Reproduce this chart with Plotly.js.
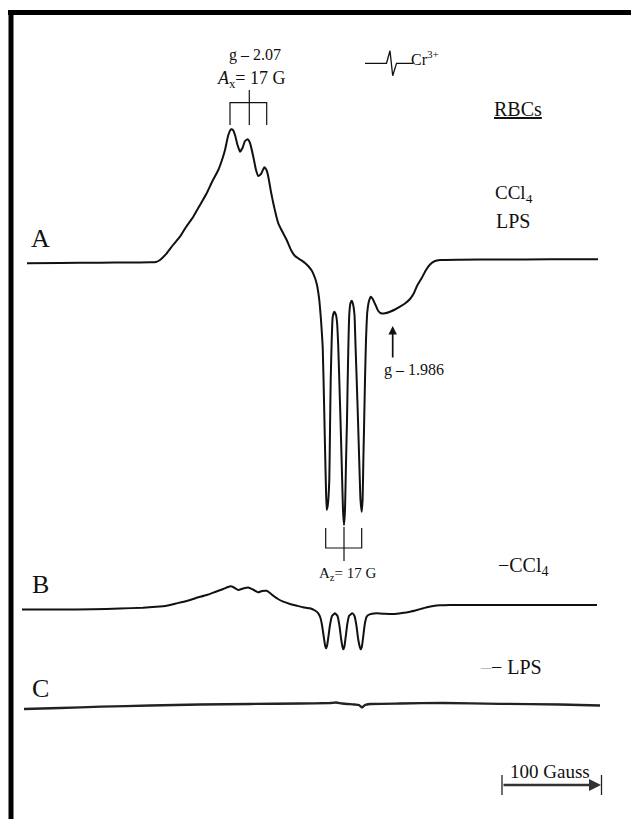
<!DOCTYPE html>
<html>
<head>
<meta charset="utf-8">
<script src="https://cdn.plot.ly/plotly-3.0.1.min.js"></script>
<style>html,body{margin:0;padding:0;background:#fff;}#chart{width:631px;height:819px;}</style>
</head>
<body>
<div id="chart"></div>
<script>
// Magnetic field (G, relative) and first-derivative EPR signal (arbitrary units, baseline = 0)
var fieldA = [27,60,100,130,150,156,160,166.7,173,180,186,193.3,200,206.7,212,218.3,222,225,228.3,231,233,235,237.5,240,242.5,245,247.7,250,253.3,256,258.3,261,264.3,266.5,268.3,271,273.3,276,278.3,282,286.7,291,295,300,305,309,312,315,317,318.5,319.5,321,322.7,324,325,326,326.7,327.8,329.3,330,330.7,331.7,332.7,334.3,336,337,338.2,339.3,340.5,341.7,343,344,345,346,347,347.7,348.5,349.3,350.5,351.7,353,354.5,355.5,356.7,358,359.3,360.5,361.7,362.6,363.3,364.2,365,366,367.3,369,370.7,372.5,374,376,378.3,381,385,390,395,400,405,410,414,417,421.7,426,430,435,440,460,500,550,598];
var signalA = [-1.3,-1,-0.7,-0.5,-0.3,0,2,8.7,17,25.3,35,45.3,57,68.7,80,92,102,112,127,132.7,132,127,117,110.3,114,121,122.7,119,105.3,92,86,88,94.7,92,85.3,70,58.7,47,38.7,31,22,12,6,2.5,-1,-5,-9,-16,-23,-32,-40,-58,-85,-138,-185,-228,-248,-243,-218,-168,-118,-78,-55,-49.7,-53,-60,-83,-118,-158,-201,-248,-263,-248,-201,-158,-118,-78,-52,-41,-38.7,-42,-53,-83,-118,-158,-201,-238,-249.7,-238,-201,-158,-118,-78,-50,-39,-34.7,-36.5,-39.7,-44,-49,-51.3,-51.3,-49.7,-47.5,-44.7,-41.5,-37,-31,-24,-16,-8,-2.5,1,2,2.3,2.5,2.7,2.8];

var fieldB = [22,60,93,120,143,156,166.7,176,186.7,196,206.7,215,223.3,228,230.7,234,238.3,243,248.3,253,258.3,262,266.7,270,273.3,278,283.3,290,296.7,303,310,315,318.3,320.5,322,323.5,325,326,327,328.5,330,332,335,337.5,339.5,341,342.5,343.3,344.3,345.8,347.3,349,352.3,354.5,356.5,358,359.8,360.7,361.8,363.3,364.8,366.5,368.3,372,376.7,385,393.3,402,410,417,423.3,428,433.3,440,450,500,550,597];
var signalB = [-2.5,-2.5,-2.3,-1.5,-0.7,0.2,1.3,3.5,6,9,12,15,18,20,20.7,19.5,17,18.5,19.5,17.5,14.7,16,16.2,14,11.3,8,5.3,3,1.3,-0.3,-1.3,-3.5,-6.3,-11,-18,-28,-38,-41.3,-39,-29,-18,-9,-6.3,-9,-19,-31,-40,-42.3,-40,-29,-17,-9,-6.3,-9,-19,-31,-40,-42.3,-40,-29,-17,-10,-8,-6.8,-6.3,-6.8,-7,-6,-4.7,-3,-1.3,0,1,1.7,2,2,2,2];

var fieldC = [24,60,101,150,200,250,300,330,336,342,355,359,362,365,370,400,443,500,560,600];
var signalC = [-3,-2,-0.7,0.5,1.5,2,2.5,3,3.5,2.5,1.5,1,-1.5,1,2,2.5,3,2.2,1.5,0.5];

// Cr3+ reference marker signal
var fieldCr = [365,386.5,390,392.7,396.5,413];
var signalCr = [0,0,12.5,-12.5,0,0];

var labels = {
  gx: "g – 2.07", ax: "<i>A</i><sub>x</sub>= 17 G", cr: "Cr<sup>3+</sup>",
  rbc: "<u>RBCs</u>", ccl4: "CCl<sub>4</sub>", lps: "LPS",
  gz: "g – 1.986", az: "A<sub>z</sub>= 17 G", minusCcl4: "−CCl<sub>4</sub>",
  minusLps: "<span style='color:#bbb'>–</span>− LPS", scale: "100 Gauss"
};

// layout constants (baselines in plot units)
var baseA = -262, baseB = -607, baseC = -706, baseCr = -63.3;
function shift(arr, off){ return arr.map(function(v){ return v + off; }); }

var lineStyle = {color:'#111', width:2, shape:'spline', smoothing:0.4};
var traces = [
  {x: fieldA, y: shift(signalA, baseA), mode:'lines', line: lineStyle, hoverinfo:'skip'},
  {x: fieldB, y: shift(signalB, baseB), mode:'lines', line: lineStyle, hoverinfo:'skip'},
  {x: fieldC, y: shift(signalC, baseC), mode:'lines', line: {color:'#222', width:2.3, shape:'spline', smoothing:0.4}, hoverinfo:'skip'},
  {x: fieldCr, y: shift(signalCr, baseCr), mode:'lines', line: {color:'#111', width:1.3}, hoverinfo:'skip'}
];

var serif = "Liberation Serif, Times New Roman, serif";
function txt(t, x, y, size, xa){
  return {text:t, x:x, y:y, xref:'x', yref:'y', showarrow:false, xanchor: xa||'center', yanchor:'middle',
          font:{family:serif, size:size, color:'#111'}};
}
var ann = [
  txt(labels.gx, 255, -55, 16),
  txt(labels.ax, 251, -79, 18),
  txt(labels.cr, 409, -58, 16, 'left'),
  txt(labels.rbc, 518, -109, 20),
  txt(labels.ccl4, 514, -194, 19),
  txt(labels.lps, 513, -221, 20),
  txt("A", 40, -238, 26),
  txt(labels.gz, 382, -370, 16, 'left'),
  txt(labels.az, 347, -574, 15),
  txt(labels.minusCcl4, 496, -566, 20, 'left'),
  txt("B", 40, -584, 26),
  txt(labels.minusLps, 478, -667, 20, 'left'),
  txt("C", 40, -688, 26),
  txt(labels.scale, 550, -771, 19),
  {x:392.7, y:-326, ax:392.7, ay:-359, xref:'x', yref:'y', axref:'x', ayref:'y', text:'', showarrow:true,
   arrowhead:2, arrowsize:1, arrowwidth:1.7, arrowcolor:'#111', standoff:0},
  {x:601, y:-785, ax:502, ay:-785, xref:'x', yref:'y', axref:'x', ayref:'y', text:'', showarrow:true,
   arrowhead:2, arrowsize:1, arrowwidth:2.4, arrowcolor:'#333', standoff:0}
];

var shapes = [
  {type:'line', x0:8, x1:631, y0:-12.5, y1:-12.5, line:{color:'#000', width:5}},
  {type:'line', x0:11, x1:11, y0:-10, y1:-819, line:{color:'#000', width:5}},
  {type:'path', path:'M230,-125 L230,-102.7 L266.7,-102.7 L266.7,-125', line:{color:'#111', width:1.2}},
  {type:'line', x0:249.3, x1:249.3, y0:-90, y1:-125, line:{color:'#111', width:1.2}},
  {type:'path', path:'M325.7,-528 L325.7,-548 L361.7,-548 L361.7,-528', line:{color:'#111', width:1.2}},
  {type:'line', x0:344, x1:344, y0:-527, y1:-561, line:{color:'#111', width:1.2}},
  {type:'line', x0:502, x1:502, y0:-775, y1:-795, line:{color:'#222', width:1.3}},
  {type:'line', x0:601.5, x1:601.5, y0:-775, y1:-795, line:{color:'#222', width:1.3}}
];

var layout = {
  width:631, height:819, margin:{l:0,r:0,t:0,b:0,pad:0},
  paper_bgcolor:'#fff', plot_bgcolor:'#fff', showlegend:false,
  xaxis:{range:[0,631], visible:false, fixedrange:true},
  yaxis:{range:[-819,0], visible:false, fixedrange:true},
  annotations: ann, shapes: shapes
};
Plotly.newPlot('chart', traces, layout, {staticPlot:true, displayModeBar:false});
</script>
</body>
</html>
